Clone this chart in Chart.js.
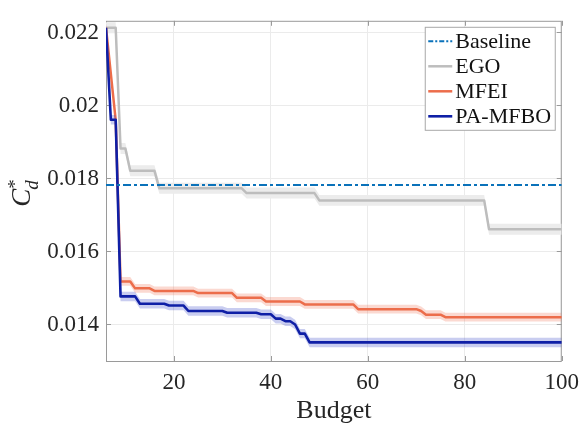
<!DOCTYPE html>
<html>
<head>
<meta charset="utf-8">
<script src="https://cdn.jsdelivr.net/npm/chart.js@4/dist/chart.umd.min.js"></script>
<style>
  html, body { margin: 0; padding: 0; background: #ffffff; }
  #wrap { width: 587px; height: 428px; }
</style>
</head>
<body>
<div id="wrap"><canvas id="c" width="587" height="428"></canvas></div>
<script>
// Best drag coefficient found so far versus evaluation budget.
// Each series is a polyline of (budget, value) vertices.
const baselineBudget = [6, 100];
const baselineValue  = [0.01782, 0.01782];

const egoBudget = [6, 8, 9, 10, 11, 16, 17, 34, 35, 49, 50, 84, 85, 100];
const egoValue  = [0.02213, 0.02213, 0.01882, 0.01882, 0.01821, 0.01821, 0.01773, 0.01773,
                   0.01760, 0.01760, 0.01740, 0.01740, 0.01661, 0.01661];
const egoSpread = 0.00015;

const mfeiBudget = [6, 8, 9, 11, 12, 15, 16, 24, 25, 32, 33, 38, 39, 46, 47, 57, 58, 70, 71, 72, 75, 76, 100];
const mfeiValue  = [0.02213, 0.01960, 0.01518, 0.01518, 0.01499, 0.01499, 0.01492, 0.01492,
                    0.01486, 0.01486, 0.01473, 0.01473, 0.01463, 0.01463, 0.01455, 0.01455,
                    0.01442, 0.01442, 0.01437, 0.01427, 0.01427, 0.01420, 0.01420];
const mfeiSpread = 0.00012;

const pamfboBudget = [6, 7, 8, 9, 12, 13, 18, 19, 22, 23, 30, 31, 37, 38, 40, 41, 42, 43, 44, 45, 46, 47, 48, 100];
const pamfboValue  = [0.02213, 0.01961, 0.01961, 0.01477, 0.01477, 0.01457, 0.01457, 0.01452,
                      0.01452, 0.01437, 0.01437, 0.01432, 0.01432, 0.01428, 0.01428, 0.01416,
                      0.01416, 0.01409, 0.01409, 0.01400, 0.01375, 0.01375, 0.01351, 0.01351];
const pamfboSpread = 0.00013;

const xTicks = [20, 40, 60, 80, 100];
const yTicks = [0.014, 0.016, 0.018, 0.020, 0.022];
const yTickLabels = ['0.014', '0.016', '0.018', '0.02', '0.022'];

const SERIF = '"Liberation Serif", "Times New Roman", serif';

function points(xs, ys, offset) {
  return xs.map((x, i) => ({ x: x, y: ys[i] + (offset || 0) }));
}

function lineSet(label, xs, ys, color, width, order, dash) {
  return {
    label: label, data: points(xs, ys), borderColor: color, backgroundColor: color,
    borderWidth: width, borderDash: dash || [], pointRadius: 0, tension: 0,
    fill: false, order: order, borderJoinStyle: 'round'
  };
}

function bandSet(xs, ys, spread, sign, color, order, fillTarget) {
  return {
    data: points(xs, ys, sign * spread), borderWidth: 0, borderColor: 'rgba(0,0,0,0)',
    backgroundColor: color, pointRadius: 0, tension: 0, fill: fillTarget, order: order
  };
}

const datasets = [
  lineSet('Baseline', baselineBudget, baselineValue, '#0a72ba', 2, 0, [8, 3, 3, 3]),
  lineSet('EGO', egoBudget, egoValue, '#bdbdbd', 2.5, 5),
  lineSet('MFEI', mfeiBudget, mfeiValue, '#ec6d4b', 2.5, 3),
  lineSet('PA-MFBO', pamfboBudget, pamfboValue, '#0f1fa6', 2.6, 1),
  bandSet(egoBudget, egoValue, egoSpread, -1, '#ececec', 7, false),
  bandSet(egoBudget, egoValue, egoSpread, 1, '#ececec', 6, '-1'),
  bandSet(mfeiBudget, mfeiValue, mfeiSpread, -1, 'rgba(241,120,90,0.28)', 9, false),
  bandSet(mfeiBudget, mfeiValue, mfeiSpread, 1, 'rgba(241,120,90,0.28)', 4, '-1'),
  bandSet(pamfboBudget, pamfboValue, pamfboSpread, -1, 'rgba(60,75,200,0.28)', 9, false),
  bandSet(pamfboBudget, pamfboValue, pamfboSpread, 1, 'rgba(60,75,200,0.28)', 2, '-1')
];

// Axes box with inward tick marks on all four sides.
const axesBox = {
  id: 'axesBox',
  beforeDatasetsDraw(chart) {
    const { ctx, chartArea: a, scales } = chart;
    ctx.save();
    ctx.strokeStyle = '#9a9a9a';
    ctx.lineWidth = 1;
    ctx.strokeRect(a.left + 0.5, a.top + 0.5, a.right - a.left - 1, a.bottom - a.top);
    const len = 5;
    ctx.beginPath();
    xTicks.forEach(v => {
      const px = Math.round(scales.x.getPixelForValue(v)) + 0.5;
      ctx.moveTo(px, a.bottom); ctx.lineTo(px, a.bottom - len);
      ctx.moveTo(px, a.top); ctx.lineTo(px, a.top + len);
    });
    yTicks.forEach(v => {
      const py = Math.round(scales.y.getPixelForValue(v)) + 0.5;
      ctx.moveTo(a.left, py); ctx.lineTo(a.left + len, py);
      ctx.moveTo(a.right, py); ctx.lineTo(a.right - len, py);
    });
    ctx.stroke();
    ctx.restore();
  }
};

// Rotated y-axis title C_d^*.
const yTitle = {
  id: 'yTitle',
  afterDraw(chart) {
    const { ctx, chartArea: a } = chart;
    const cy = (a.top + a.bottom) / 2;
    ctx.save();
    ctx.translate(a.left - 76, cy + 2);
    ctx.rotate(-Math.PI / 2);
    ctx.fillStyle = '#262626';
    ctx.textBaseline = 'alphabetic';
    ctx.font = 'italic 27px ' + SERIF;
    const wC = ctx.measureText('C').width;
    ctx.font = 'italic 19px ' + SERIF;
    const wd = ctx.measureText('d').width;
    const total = wC + wd;
    let x = -total / 2;
    ctx.font = 'italic 27px ' + SERIF;
    ctx.fillText('C', x, 0);
    x += wC - 1;
    ctx.font = 'italic 19px ' + SERIF;
    ctx.fillText('d', x, 8);
    ctx.font = '19px ' + SERIF;
    ctx.fillText('*', x + 1, -9);
    ctx.restore();
  }
};

// Legend box in the upper-right corner of the plot.
const boxLegend = {
  id: 'boxLegend',
  afterDraw(chart) {
    const { ctx, chartArea: a } = chart;
    const items = chart.data.datasets.filter(d => d.label);
    const w = 130, rowH = 25;
    const right = a.right - 6.5, top = a.top + 6.5;
    const left = right - w;
    const h = rowH * items.length + 3;
    ctx.save();
    ctx.fillStyle = '#ffffff';
    ctx.fillRect(left, top, w, h);
    ctx.strokeStyle = '#a8a8a8';
    ctx.lineWidth = 1;
    ctx.strokeRect(left, top, w, h);
    ctx.font = '22px ' + SERIF;
    ctx.textBaseline = 'middle';
    ctx.textAlign = 'left';
    items.forEach((d, i) => {
      const y = top + 14 + i * rowH;
      ctx.beginPath();
      ctx.strokeStyle = d.borderColor;
      ctx.lineWidth = d.borderWidth;
      ctx.setLineDash(d.borderDash.length ? [5, 2, 2, 2] : []);
      ctx.moveTo(left + 3, y);
      ctx.lineTo(left + 27, y);
      ctx.stroke();
      ctx.setLineDash([]);
      ctx.fillStyle = '#111111';
      ctx.fillText(d.label, left + 30, y + 1);
    });
    ctx.restore();
  }
};

new Chart(document.getElementById('c'), {
  type: 'line',
  data: { datasets: datasets },
  options: {
    responsive: false,
    animation: false,
    devicePixelRatio: 1,
    layout: { padding: { left: 0, right: 18, top: 6, bottom: 0 } },
    plugins: { legend: { display: false }, tooltip: { enabled: false } },
    scales: {
      x: {
        type: 'linear', min: 6, max: 100,
        afterBuildTicks: s => { s.ticks = xTicks.map(v => ({ value: v })); },
        afterFit: s => { s.height = 67; },
        grid: { color: '#ebebeb', lineWidth: 1, drawTicks: false },
        border: { display: false },
        ticks: { font: { family: SERIF, size: 23 }, color: '#262626', padding: 8, maxRotation: 0 },
        title: { display: true, text: 'Budget', font: { family: SERIF, size: 26 }, color: '#262626',
                 padding: { top: 0, bottom: 1 } }
      },
      y: {
        type: 'linear', min: 0.013, max: 0.02232,
        afterBuildTicks: s => { s.ticks = yTicks.map(v => ({ value: v })); },
        afterFit: s => { s.width = 106; },
        grid: { color: '#ebebeb', lineWidth: 1, drawTicks: false },
        border: { display: false },
        ticks: { font: { family: SERIF, size: 23 }, color: '#262626', padding: 7,
                 callback: (v, i) => yTickLabels[i] }
      }
    }
  },
  plugins: [axesBox, yTitle, boxLegend]
});
</script>
</body>
</html>
